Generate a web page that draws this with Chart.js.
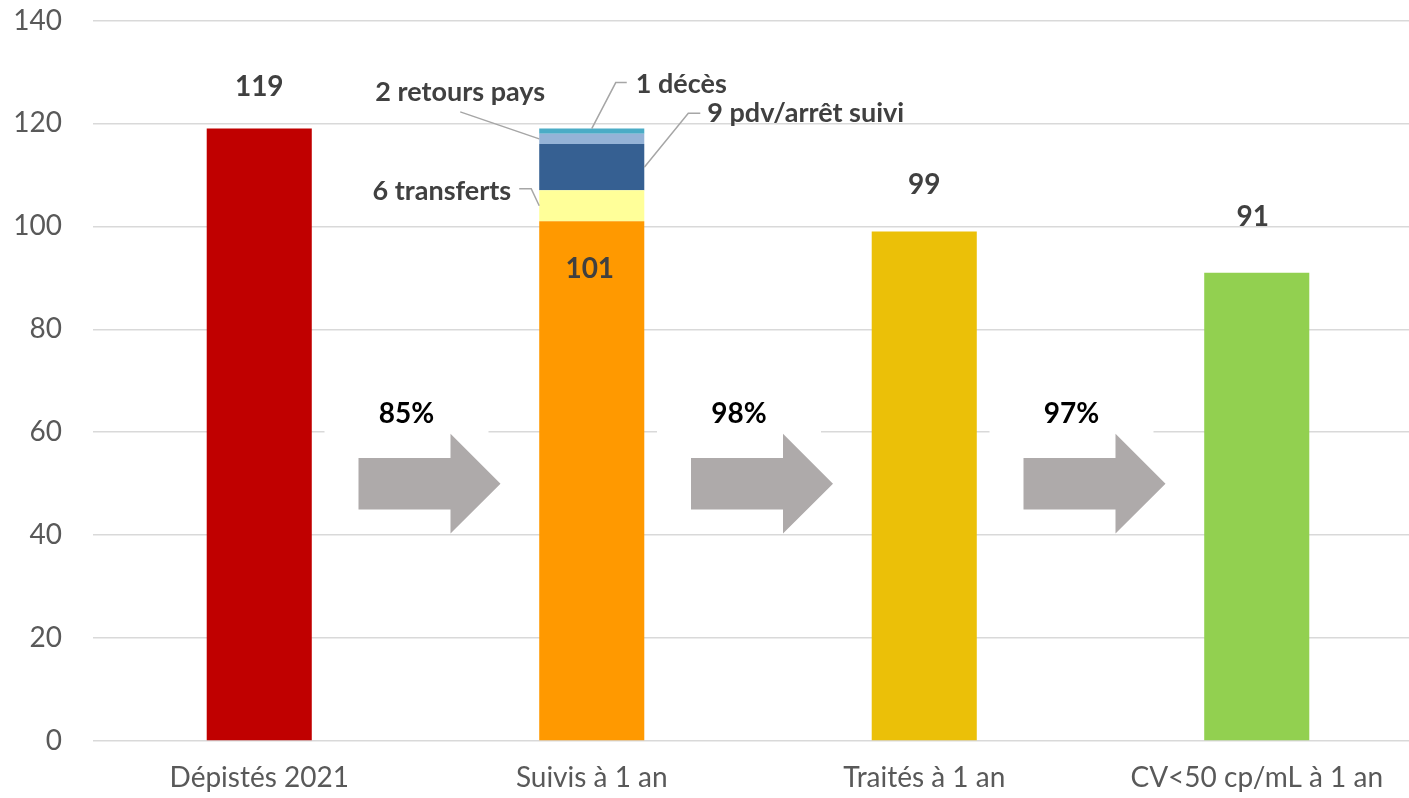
<!DOCTYPE html>
<html>
<head>
<meta charset="utf-8">
<script src="https://cdn.jsdelivr.net/npm/chart.js@4/dist/chart.umd.min.js"></script>
<style>
  html, body { margin: 0; padding: 0; background: #fff; overflow: hidden; }
  #wrap { width: 1424px; height: 798px; }
</style>
</head>
<body>
<div id="wrap"><canvas id="cascade" width="1424" height="798"></canvas></div>
<script>
// Cascade de prise en charge — cohorte dépistée en 2021
const categories = ['Dépistés 2021', 'Suivis à 1 an', 'Traités à 1 an', 'CV<50 cp/mL à 1 an'];
const patients = [119, 101, 99, 91];

// Sorties de la file active entre dépistage et suivi à 1 an (empilées sur « Suivis »)
const transferts = [null, 6, null, null];
const perdusDeVue = [null, 9, null, null];
const retoursPays = [null, 2, null, null];
const deces = [null, 1, null, null];

// Taux de passage d'une étape à la suivante
const stepRates = ['85%', '98%', '97%'];

const yTicks = [0, 20, 40, 60, 80, 100, 120, 140];

const barColours = ['#C00000', '#FF9900', '#EBC008', '#92D050'];
const FONT = 'Lato, "Open Sans", sans-serif';

const outflows = [
  { data: transferts,  colour: '#FFFF99', text: v => v + ' transferts' },
  { data: perdusDeVue, colour: '#366092', text: v => v + ' pdv/arrêt suivi' },
  { data: retoursPays, colour: '#95B3D7', text: v => v + ' retours pays' },
  { data: deces,       colour: '#4BACC6', text: v => v + ' décès' }
];

// Callout layout for each outflow segment: where the leader leaves the bar,
// its elbow points and where the text sits (pixel offsets from the anchor).
const calloutLayout = [
  { side: 'left',  path: [[-8, -17], [-20, -17]], tx: -28, ty: -14, align: 'right' },
  { side: 'right', path: [[44, -54], [56, -54]],  tx: 63,  ty: -54, align: 'left' },
  { side: 'left',  path: [[-79, -27]],            tx: -79, ty: -47, align: 'center' },
  { side: 'top',   path: [[24, -46], [35, -46]],  tx: 44,  ty: -44, align: 'left' }
];

// Value label placement (pixel offsets from the top of the main bar)
const valueLabelLayout = [
  { dx: 0,  dy: -42 },
  { dx: -2, dy: 48 },
  { dx: 0,  dy: -47 },
  { dx: -4, dy: -56 }
];

const overlay = {
  id: 'overlay',
  afterDatasetsDraw(chart) {
    const { ctx, scales: { x, y } } = chart;
    const mainMeta = chart.getDatasetMeta(0);
    ctx.save();

    // Arrows between steps with their pass-through rate
    stepRates.forEach((rate, i) => {
      const b = (x.getPixelForValue(i) + x.getPixelForValue(i + 1)) / 2;
      const left = b - 67, tip = b + 75, headBase = tip - 50;
      const yc = y.getPixelForValue(50);
      const bodyH = y.getPixelForValue(45) - yc;
      const headH = y.getPixelForValue(40.3) - yc;

      const lx = b - 19, ly = y.getPixelForValue(63.6);
      ctx.fillStyle = '#FFFFFF';
      ctx.fillRect(lx - 82, ly - 26, 164, 54);

      ctx.fillStyle = '#AEAAAA';
      ctx.beginPath();
      ctx.moveTo(left, yc - bodyH);
      ctx.lineTo(headBase, yc - bodyH);
      ctx.lineTo(headBase, yc - headH);
      ctx.lineTo(tip, yc);
      ctx.lineTo(headBase, yc + headH);
      ctx.lineTo(headBase, yc + bodyH);
      ctx.lineTo(left, yc + bodyH);
      ctx.closePath();
      ctx.fill();

      ctx.fillStyle = '#000000';
      ctx.font = 'bold 28px ' + FONT;
      ctx.textAlign = 'center';
      ctx.textBaseline = 'middle';
      ctx.fillText(rate, lx, ly);
    });

    // Bar value labels
    ctx.font = 'bold 28px ' + FONT;
    ctx.fillStyle = '#404040';
    ctx.textAlign = 'center';
    ctx.textBaseline = 'middle';
    patients.forEach((v, i) => {
      const bar = mainMeta.data[i];
      const p = valueLabelLayout[i];
      ctx.fillText(String(v), bar.x + p.dx, y.getPixelForValue(v) + p.dy);
    });

    // Callouts for the stacked outflow segments
    ctx.font = 'bold 27px ' + FONT;
    ctx.strokeStyle = '#A6A6A6';
    ctx.lineWidth = 1.5;
    outflows.forEach((o, k) => {
      o.data.forEach((v, i) => {
        if (v == null) return;
        const bar = chart.getDatasetMeta(k + 1).data[i];
        let base = patients[i];
        for (let j = 0; j < k; j++) base += outflows[j].data[i] || 0;
        const lo = base, hi = base + v;
        const half = bar.width / 2;
        const L = calloutLayout[k];
        let ax, ay;
        if (L.side === 'top') { ax = bar.x; ay = y.getPixelForValue(hi); }
        else {
          ax = L.side === 'left' ? bar.x - half : bar.x + half;
          ay = y.getPixelForValue((lo + hi) / 2);
        }
        ctx.beginPath();
        ctx.moveTo(ax, ay);
        L.path.forEach(([dx, dy]) => ctx.lineTo(ax + dx, ay + dy));
        ctx.stroke();
        ctx.fillStyle = '#404040';
        ctx.textAlign = L.align;
        ctx.textBaseline = 'middle';
        ctx.fillText(o.text(v), ax + L.tx, ay + L.ty);
      });
    });

    ctx.restore();
  }
};

const datasets = [
  { label: 'Patients', data: patients, backgroundColor: barColours }
].concat(outflows.map(o => ({ label: o.text(''), data: o.data, backgroundColor: o.colour })));

new Chart(document.getElementById('cascade'), {
  type: 'bar',
  data: { labels: categories, datasets: datasets },
  options: {
    responsive: false,
    animation: false,
    datasets: { bar: { categoryPercentage: 1, barPercentage: 0.316, borderWidth: 0 } },
    layout: { padding: { top: 20.5, right: 1, left: 0, bottom: 0 } },
    plugins: { legend: { display: false }, tooltip: { enabled: false } },
    scales: {
      x: {
        stacked: true,
        grid: { display: false, drawTicks: false },
        border: { display: false },
        ticks: { color: '#595959', font: { family: FONT, size: 28 }, padding: 20, maxRotation: 0, autoSkip: false },
        afterFit(s) { s.height = 57; s.paddingLeft = 0; s.paddingRight = 0; }
      },
      y: {
        stacked: true,
        min: 0,
        max: 140,
        afterBuildTicks(s) { s.ticks = yTicks.map(v => ({ value: v })); },
        grid: { color: '#D9D9D9', lineWidth: 1.5, drawTicks: false },
        border: { display: false },
        ticks: { color: '#595959', font: { family: FONT, size: 28 }, padding: 31 },
        afterFit(s) { s.width = 93; s.paddingTop = 0; s.paddingBottom = 0; }
      }
    }
  },
  plugins: [overlay]
});
</script>
</body>
</html>
